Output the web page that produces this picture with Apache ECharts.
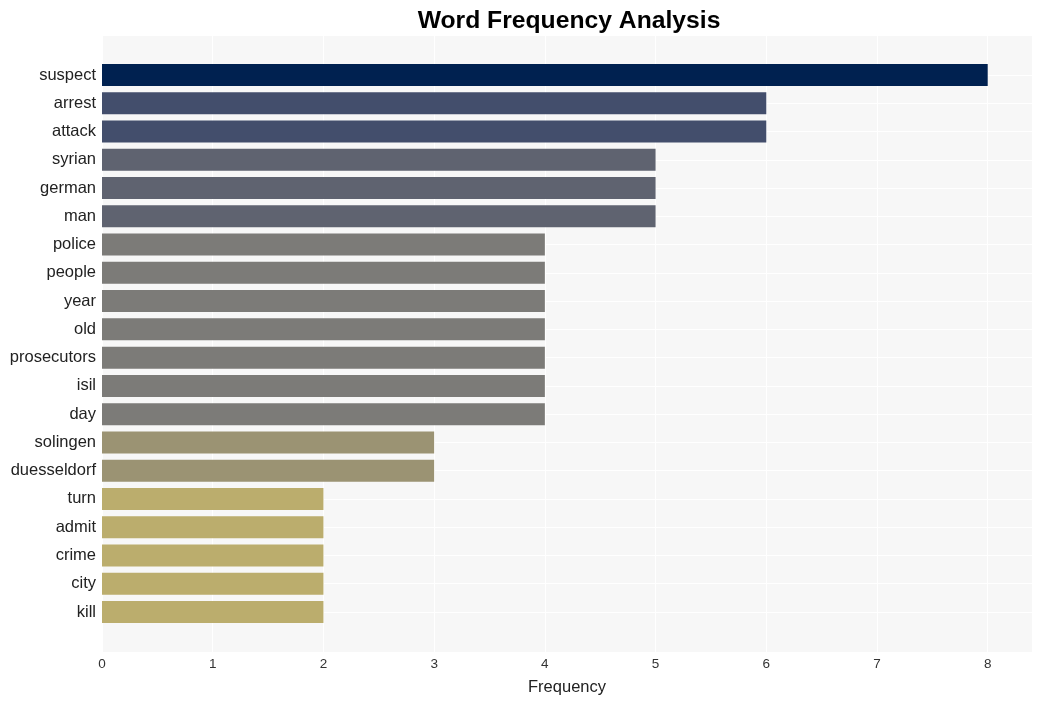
<!DOCTYPE html>
<html>
<head>
<meta charset="utf-8">
<script src="https://cdn.jsdelivr.net/npm/echarts@6/dist/echarts.min.js"></script>
<style>html,body{margin:0;padding:0;background:#fff}#c{width:1041px;height:701px}</style>
</head>
<body>
<div id="c"></div>
<script>
const categories = ["suspect","arrest","attack","syrian","german","man","police","people","year","old","prosecutors","isil","day","solingen","duesseldorf","turn","admit","crime","city","kill"];
const frequencies = [8,6,6,5,5,5,4,4,4,4,4,4,4,3,3,2,2,2,2,2];
const xTicks = [0,1,2,3,4,5,6,7,8];

const colorByValue = {8:"#002150",6:"#434e6c",5:"#5f6370",4:"#7c7b78",3:"#9b9373",2:"#bbad6d"};

const chart = echarts.init(document.getElementById('c'), null, {renderer:'canvas'});
const fontFam = '"Liberation Sans", Arial, Helvetica, sans-serif';
chart.setOption({
  animation:false,
  backgroundColor:'#ffffff',
  title:{text:'Word Frequency Analysis', left:564, top:4, textAlign:'center',
    textStyle:{fontFamily:fontFam, fontSize:24.7, fontWeight:'bold', color:'#000'}},
  grid:[
    {left:102, right:9, top:36, bottom:49, show:true, backgroundColor:'#f7f7f7', borderWidth:0},
    {left:102, right:9, top:75, bottom:89, show:false}
  ],
  xAxis:[
    {gridIndex:0, type:'value', min:0, max:8.4, interval:1,
      axisLine:{show:false}, axisTick:{show:false},
      axisLabel:{fontFamily:fontFam, fontSize:13.5, color:'#333', margin:5,
        formatter:v => xTicks.includes(v) ? String(v) : ''},
      splitLine:{show:true, lineStyle:{color:'#ffffff', width:1}},
      name:'Frequency', nameLocation:'middle', nameGap:27,
      nameTextStyle:{fontFamily:fontFam, fontSize:16.5, color:'#222'}},
    {gridIndex:1, type:'value', min:0, max:8.4, show:false, splitLine:{show:false}}
  ],
  yAxis:[
    {gridIndex:0, type:'value', show:false, splitLine:{show:false}},
    {gridIndex:1, type:'category', data:categories, inverse:true, boundaryGap:false,
      axisLine:{show:false}, axisTick:{show:false},
      axisLabel:{fontFamily:fontFam, fontSize:16.5, color:'#222', margin:6, padding:[10,0,0,0]},
      splitLine:{show:true, lineStyle:{color:'#ffffff', width:1}}}
  ],
  series:[{
    type:'bar', xAxisIndex:1, yAxisIndex:1, barWidth:22,
    data: frequencies.map(v => ({value:v, itemStyle:{color:colorByValue[v]}}))
  }]
});
</script>
</body>
</html>
